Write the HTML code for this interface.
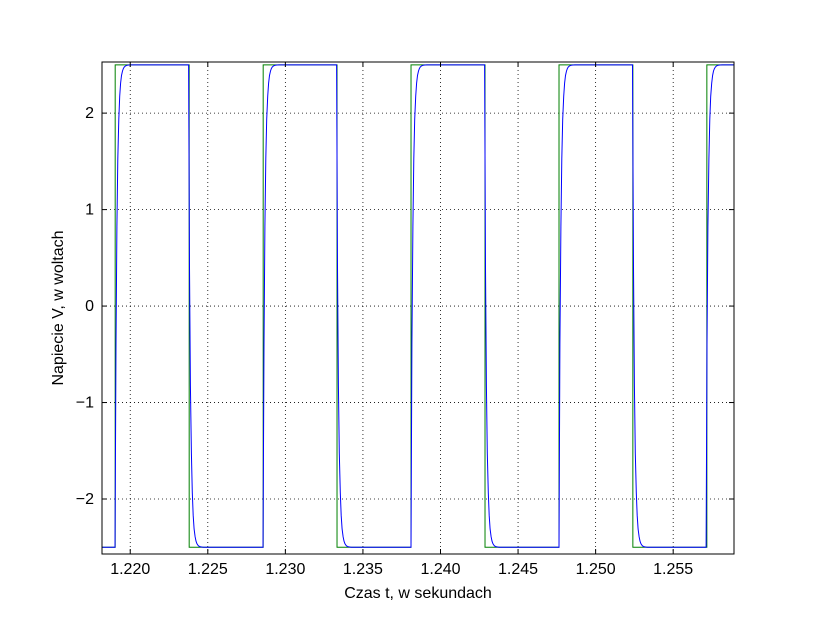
<!DOCTYPE html>
<html><head><meta charset="utf-8"><style>
body{margin:0;background:#fff;}
svg text{font-family:"Liberation Sans",sans-serif;font-size:16px;fill:#000;}
</style></head><body>
<svg id="chart" width="815" height="615" xmlns="http://www.w3.org/2000/svg">
<rect width="815" height="615" fill="#fff"/>
<g id="grid"></g>
<g id="series"></g>
<rect x="102" y="62" width="632" height="492" fill="none" stroke="#000" stroke-width="1"/>
<g id="ticks"></g>
<text x="418" y="598" text-anchor="middle">Czas t, w sekundach</text>
<text transform="translate(63,308) rotate(-90)" text-anchor="middle">Napiecie V, w woltach</text>
</svg>
<script>
const xTicks=[1.220,1.225,1.230,1.235,1.240,1.245,1.250,1.255];
const xTickLabels=["1.220","1.225","1.230","1.235","1.240","1.245","1.250","1.255"];
const yTicks=[-2,-1,0,1,2];
const yTickLabels=["\u22122","\u22121","0","1","2"];
const edgeTimes=[1.21903,1.22380,1.22857,1.23333,1.23810,1.24287,1.24764,1.25240,1.25717];
const edgeLevels=[2.5,-2.5,2.5,-2.5,2.5,-2.5,2.5,-2.5,2.5];
const startLevel=-2.5;
const tau=0.00011;
const xMin=1.21818,xMax=1.25892,yMin=-2.57,yMax=2.53;
const L=102,R=734,T=62,B=554;
const sx=v=>L+(v-xMin)/(xMax-xMin)*(R-L);
const sy=v=>B-(v-yMin)/(yMax-yMin)*(B-T);
const NS="http://www.w3.org/2000/svg";
function mk(tag,attrs,parent){const e=document.createElementNS(NS,tag);for(const k in attrs)e.setAttribute(k,attrs[k]);parent.appendChild(e);return e;}
const grid=document.getElementById('grid'),ticks=document.getElementById('ticks'),series=document.getElementById('series');
xTicks.forEach((v,i)=>{const x=sx(v);
 const g=mk('line',{x1:x,x2:x,y1:T,y2:B,stroke:'#000','stroke-dasharray':'1,3','stroke-width':0.8},grid);
 
 const t1=mk('line',{x1:x,x2:x,y1:B,y2:B-5,stroke:'#000'},ticks);
 
 const t2=mk('line',{x1:x,x2:x,y1:T,y2:T+5,stroke:'#000'},ticks);
 
 const tx=mk('text',{x:x,y:B+20,'text-anchor':'middle'},ticks);tx.textContent=xTickLabels[i];
 
});
yTicks.forEach((v,i)=>{const y=sy(v);
 const g=mk('line',{x1:L,x2:R,y1:y,y2:y,stroke:'#000','stroke-dasharray':'1,3','stroke-width':0.8},grid);
 
 const t1=mk('line',{x1:L,x2:L+5,y1:y,y2:y,stroke:'#000'},ticks);
 
 const t2=mk('line',{x1:R,x2:R-5,y1:y,y2:y,stroke:'#000'},ticks);
 
 const tx=mk('text',{x:L-8,y:y+5,'text-anchor':'end'},ticks);tx.textContent=yTickLabels[i];
 
});
let p=`M${sx(xMin)},${sy(startLevel)}`;let lvl=startLevel;
edgeTimes.forEach((t,i)=>{p+=` L${sx(t)},${sy(lvl)} L${sx(t)},${sy(edgeLevels[i])}`;lvl=edgeLevels[i];});
p+=` L${sx(xMax)},${sy(lvl)}`;
const sq=mk('path',{d:p,fill:'none',stroke:'#008000','stroke-width':1},series);

let pts=[];let v=startLevel,target=startLevel,ei=0;const dt=0.00006;
for(let t=xMin;t<=xMax+1e-9;t+=dt){
 while(ei<edgeTimes.length&&edgeTimes[ei]<=t){target=edgeLevels[ei];ei++;}
 v=target+(v-target)*Math.exp(-dt/tau);
 pts.push(sx(t).toFixed(1)+','+sy(v).toFixed(1));
}
const rc=mk('polyline',{points:pts.join(' '),fill:'none',stroke:'#0000ff','stroke-width':1},series);

</script>
</body></html>
